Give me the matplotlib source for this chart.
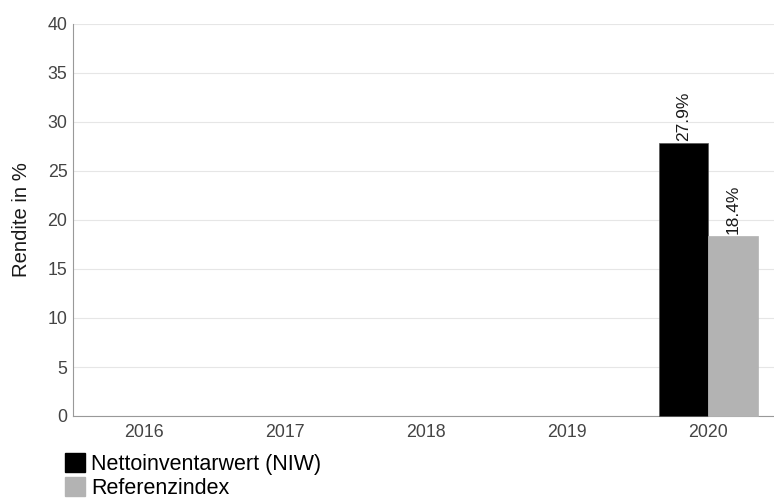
import matplotlib
matplotlib.use("Agg")
import matplotlib.pyplot as plt
import numpy as np
from matplotlib.patches import Patch

plt.rcParams['font.family'] = ['Liberation Sans', 'DejaVu Sans']

years = ["2016", "2017", "2018", "2019", "2020"]
niw = [np.nan, np.nan, np.nan, np.nan, 27.9]
ref = [np.nan, np.nan, np.nan, np.nan, 18.4]
series_names = ["Nettoinventarwert (NIW)", "Referenzindex"]
colors = ["#000000", "#b3b3b3"]

fig = plt.figure(figsize=(7.74, 5.0), dpi=100)
ax = fig.add_axes([73/774, 1-416/500, (779-73)/774, (416-24)/500])

x = np.arange(len(years))
w = 0.35
for vals, off, c in [(niw, -w/2, colors[0]), (ref, w/2, colors[1])]:
    for xi, v in zip(x, vals):
        if np.isnan(v):
            continue
        ax.bar(xi + off, v, width=w, color=c, edgecolor='#555555' if c == '#000000' else c,
               linewidth=0.5, zorder=3, clip_on=False)
        ax.text(xi + off, v + 0.2, f"{v:.1f}%", rotation=90, ha='center', va='bottom',
                fontsize=12.5, color='#1a1a1a', zorder=4)

ax.set_xlim(-0.5, len(years) - 0.5)
ax.set_ylim(0, 40)
ax.set_yticks(range(0, 41, 5))
ax.set_xticks(x)
ax.set_xticklabels(years)
ax.tick_params(axis='both', length=0, labelsize=12.8, labelcolor='#444444')
ax.tick_params(axis='y', pad=4)
ax.tick_params(axis='x', pad=6)
ax.grid(axis='y', color='#e6e6e6', linewidth=0.8, zorder=0)
for s in ['top', 'right']:
    ax.spines[s].set_visible(False)
for s in ['left', 'bottom']:
    ax.spines[s].set_color('#999999')
    ax.spines[s].set_linewidth(0.8)
ax.set_ylabel("Rendite in %", fontsize=14.6, color='#1a1a1a', labelpad=12)

handles = [Patch(facecolor=c, edgecolor=c) for c in colors]
fig.legend(handles, series_names, loc='upper left', bbox_to_anchor=(65/774, 1-453/500),
           frameon=False, fontsize=15.5, handlelength=0.95, handleheight=0.95,
           handletextpad=0.28, labelspacing=0.12, borderpad=0, borderaxespad=0)

fig.savefig("out.png", dpi=100)
